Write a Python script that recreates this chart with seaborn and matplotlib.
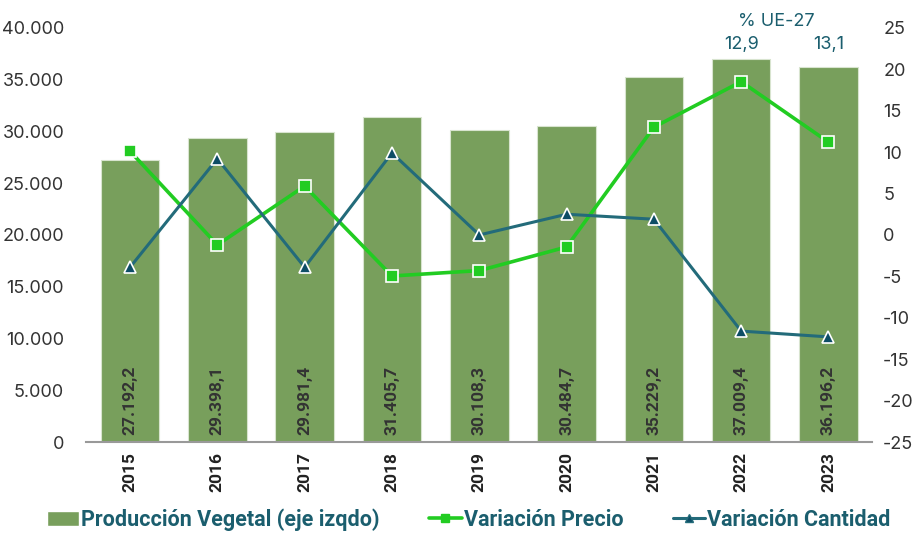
import numpy as np
import pandas as pd
import matplotlib.pyplot as plt
import matplotlib.ticker as mticker
from matplotlib.lines import Line2D
from matplotlib.patches import Patch
import seaborn as sns

years = ["2015", "2016", "2017", "2018", "2019", "2020", "2021", "2022", "2023"]
produccion = [27192.2, 29398.1, 29981.4, 31405.7, 30108.3, 30484.7, 35229.2, 37009.4, 36196.2]
var_precio = [10.1, -1.2, 5.9, -4.95, -4.3, -1.45, 13.0, 18.5, 11.2]
var_cantidad = [-3.9, 9.2, -3.9, 9.9, 0.0, 2.5, 1.9, -11.6, -12.3]
ue_labels = {"2022": "12,9", "2023": "13,1"}

bar_col = "#789F5C"
precio_col = "#22CC22"
cant_col = "#236B7A"
cant_mk = "#0D4D66"
text_col = "#1B5E6E"

sns.set_style("white")
plt.rcParams["font.family"] = ["Inter", "DejaVu Sans"]
plt.rcParams["axes.unicode_minus"] = False

dt = pd.DataFrame({"year": years, "prod": produccion,
                   "precio": var_precio, "cant": var_cantidad})
dt["pos"] = np.arange(len(years))

fig = plt.figure(figsize=(9.19, 5.34), dpi=100)
ax = fig.add_axes([0.094, 0.172, 0.855, 0.776])
sns.barplot(data=dt, x="year", y="prod", color=bar_col, width=0.67,
            edgecolor="#d8e4cf", linewidth=0.8, saturation=1, ax=ax)
ax.set_xlim(-0.5, 8.5)
ax.set_ylim(0, 40000)
ax.yaxis.set_major_locator(mticker.MultipleLocator(5000))
ax.yaxis.set_major_formatter(mticker.FuncFormatter(lambda v, p: f"{int(v):,}".replace(",", ".")))
ax.set_xlabel("")
ax.set_ylabel("")
for s in ["top", "right", "left"]:
    ax.spines[s].set_visible(False)
ax.spines["bottom"].set_color("#999999")
ax.spines["bottom"].set_linewidth(1.5)
ax.tick_params(axis="y", length=0, labelsize=13, labelcolor="#333333", pad=16)
ax.tick_params(axis="x", length=0, pad=7)
for lab in ax.get_xticklabels():
    lab.set_rotation(90)
    lab.set_fontweight("bold")
    lab.set_fontsize(12.5)
    lab.set_color("#222222")
    lab.set_family(["Roboto", "DejaVu Sans"])

for i, v in enumerate(produccion):
    txt = f"{v:,.1f}".replace(",", "X").replace(".", ",").replace("X", ".")
    ax.text(i, 700, txt, rotation=90, ha="center", va="bottom",
            fontsize=12.5, fontweight="bold", color="#333333",
            family=["Roboto", "DejaVu Sans"])

ax2 = ax.twinx()
sns.lineplot(data=dt, x="pos", y="precio", color=precio_col, linewidth=2.6,
             marker="s", markersize=9, markerfacecolor=precio_col,
             markeredgecolor="white", markeredgewidth=1.2, ax=ax2)
sns.lineplot(data=dt, x="pos", y="cant", color=cant_col, linewidth=2.2,
             marker="^", markersize=9, markerfacecolor=cant_mk,
             markeredgecolor="white", markeredgewidth=1.2, ax=ax2)
ax2.set_ylim(-25, 25)
ax2.set_xlim(-0.5, 8.5)
ax2.yaxis.set_major_locator(mticker.MultipleLocator(5))
ax2.set_ylabel("")
ax2.set_xlabel("")
for s in ["top", "right", "left", "bottom"]:
    ax2.spines[s].set_visible(False)
ax2.tick_params(axis="y", length=0, labelsize=13, labelcolor="#333333", pad=8)

ax.text(years.index("2022") + 0.4, 0.995, "% UE-27", transform=ax.get_xaxis_transform(),
        ha="center", va="bottom", fontsize=13, color=text_col)
for y, lab in ue_labels.items():
    ax.text(years.index(y), 0.94, lab, transform=ax.get_xaxis_transform(),
            ha="center", va="bottom", fontsize=13, color=text_col)

handles = [
    Patch(facecolor=bar_col, label="Producción Vegetal (eje izqdo)"),
    Line2D([0], [0], color=precio_col, lw=2.6, marker="s", markersize=6,
           markerfacecolor=precio_col, label="Variación Precio"),
    Line2D([0], [0], color=cant_col, lw=2.2, marker="^", markersize=6,
           markerfacecolor=cant_mk, label="Variación Cantidad"),
]
leg = fig.legend(handles=handles, loc="lower center", bbox_to_anchor=(0.51, -0.03),
                 ncol=3, frameon=False, handlelength=1.5, handletextpad=0.1,
                 columnspacing=2.3,
                 prop={"family": ["Roboto", "DejaVu Sans"], "weight": "bold", "size": 15.5})
for t in leg.get_texts():
    t.set_color(text_col)

fig.savefig("out.png", dpi=100)
